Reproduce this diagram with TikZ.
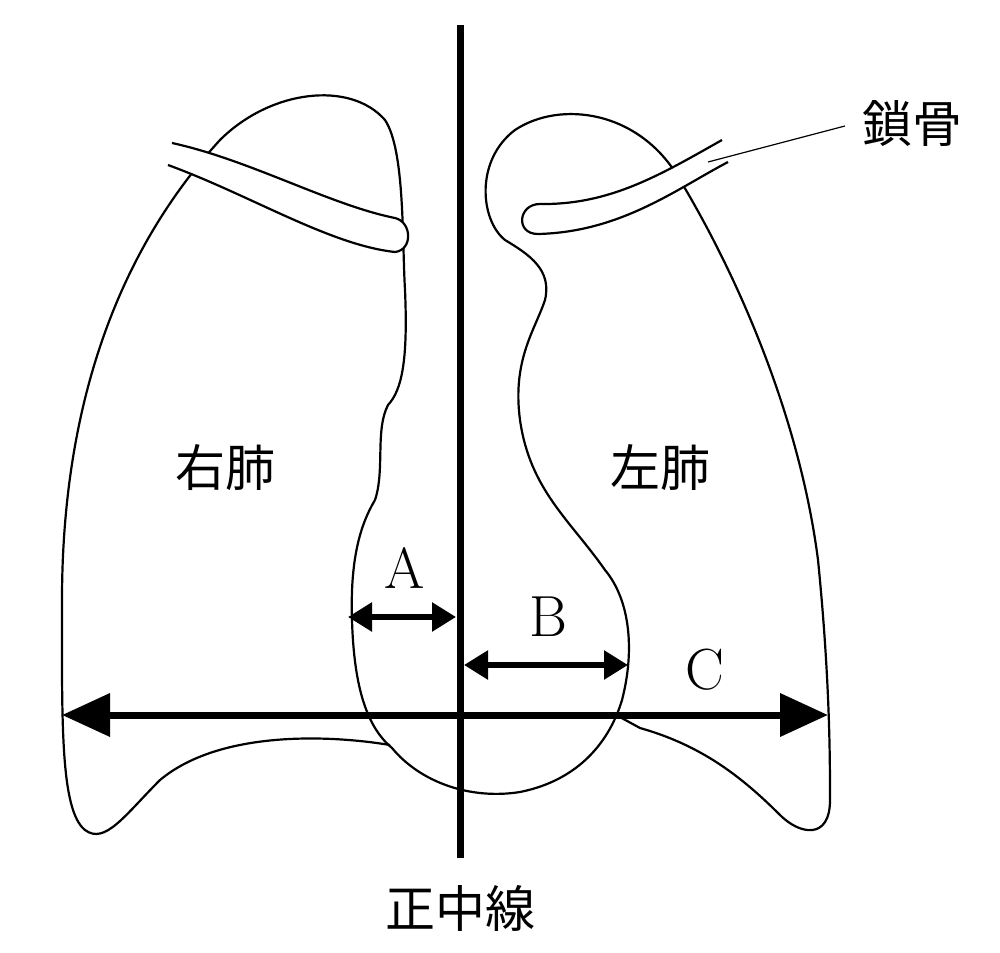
\documentclass[tikz,border=0pt]{standalone}
\usepackage{fontspec}
\newfontfamily\cjk{Noto Sans CJK JP}
\usetikzlibrary{arrows.meta}
\begin{document}
\begin{tikzpicture}[x=0.5pt,y=-0.5pt,
  outl/.style={line width=1.1pt,line join=round},
  dim/.style={line width=3.5pt,{Triangle[length=24pt,width=21pt]}-{Triangle[length=24pt,width=21pt]}},
  small/.style={line width=2.8pt,{Triangle[length=12pt,width=14pt]}-{Triangle[length=12pt,width=14pt]}},
  jp/.style={font=\cjk\fontsize{25}{25}\selectfont},
  lat/.style={font=\fontsize{29}{29}\selectfont}]
\useasboundingbox (0,0) rectangle (1000,952);
% right lung (image left)
\draw[outl] (390,745) .. controls (330,735) and (220,730) .. (160,780)
  .. controls (125,815) and (105,845) .. (85,830)
  .. controls (60,810) and (62,720) .. (62,600)
  .. controls (62,420) and (110,260) .. (220,140)
  .. controls (270,90) and (350,80) .. (385,120)
  .. controls (405,150) and (402,240) .. (405,290)
  .. controls (408,360) and (402,390) .. (388,405)
  .. controls (375,430) and (385,470) .. (375,500);
% heart + left lung
\draw[outl] (375,500) .. controls (360,525) and (350,560) .. (352,620)
  .. controls (354,690) and (368,728) .. (392,748)
  .. controls (420,782) and (470,800) .. (520,792)
  .. controls (580,780) and (610,740) .. (622,700)
  .. controls (635,650) and (630,600) .. (605,570)
  .. controls (570,520) and (530,490) .. (520,420)
  .. controls (512,360) and (535,330) .. (545,300)
  .. controls (552,270) and (530,255) .. (505,240)
  .. controls (480,220) and (475,160) .. (515,130)
  .. controls (560,100) and (640,110) .. (680,180)
  .. controls (740,280) and (800,420) .. (818,560)
  .. controls (830,680) and (830,760) .. (830,800)
  .. controls (830,840) and (800,835) .. (780,815)
  .. controls (740,775) and (700,745) .. (640,728)
  -- (618,716);
% right clavicle
\draw[outl,fill=white] (172,143) .. controls (250,160) and (330,205) .. (395,218)
  .. controls (412,222) and (413,250) .. (395,252)
  .. controls (330,245) and (250,195) .. (168,165);
% left clavicle
\draw[outl,fill=white] (722,140) .. controls (660,175) and (610,205) .. (540,204)
  .. controls (518,204) and (515,234) .. (538,234)
  .. controls (620,232) and (675,190) .. (728,162);
% midline
\coordinate (m1) at (460,25); \coordinate (m2) at (460,858);
\draw[line width=3.5pt] (m1) -- (m2);
% arrows
\coordinate (a1) at (348,617); \coordinate (a2) at (456,617);
\coordinate (b1) at (464,665); \coordinate (b2) at (628,665);
\coordinate (c1) at (62,715); \coordinate (c2) at (828,715);
\draw[small] (a1) -- (a2);
\draw[small] (b1) -- (b2);
\draw[dim] (c1) -- (c2);
\node[lat] (A) at (405,568) {A};
\node[lat] (B) at (548,617) {B};
\node[lat] (C) at (705,670) {C};
\node[jp] (rl) at (225,468) {右肺};
\node[jp] (ll) at (660,468) {左肺};
\node[jp] (cl) at (912,124) {鎖骨};
\node[jp] (ml) at (460,908) {正中線};
\coordinate (cp) at (708,162);
\draw[line width=0.6pt] (cl.west) ++(-10,2) -- (cp);
\end{tikzpicture}
\end{document}
